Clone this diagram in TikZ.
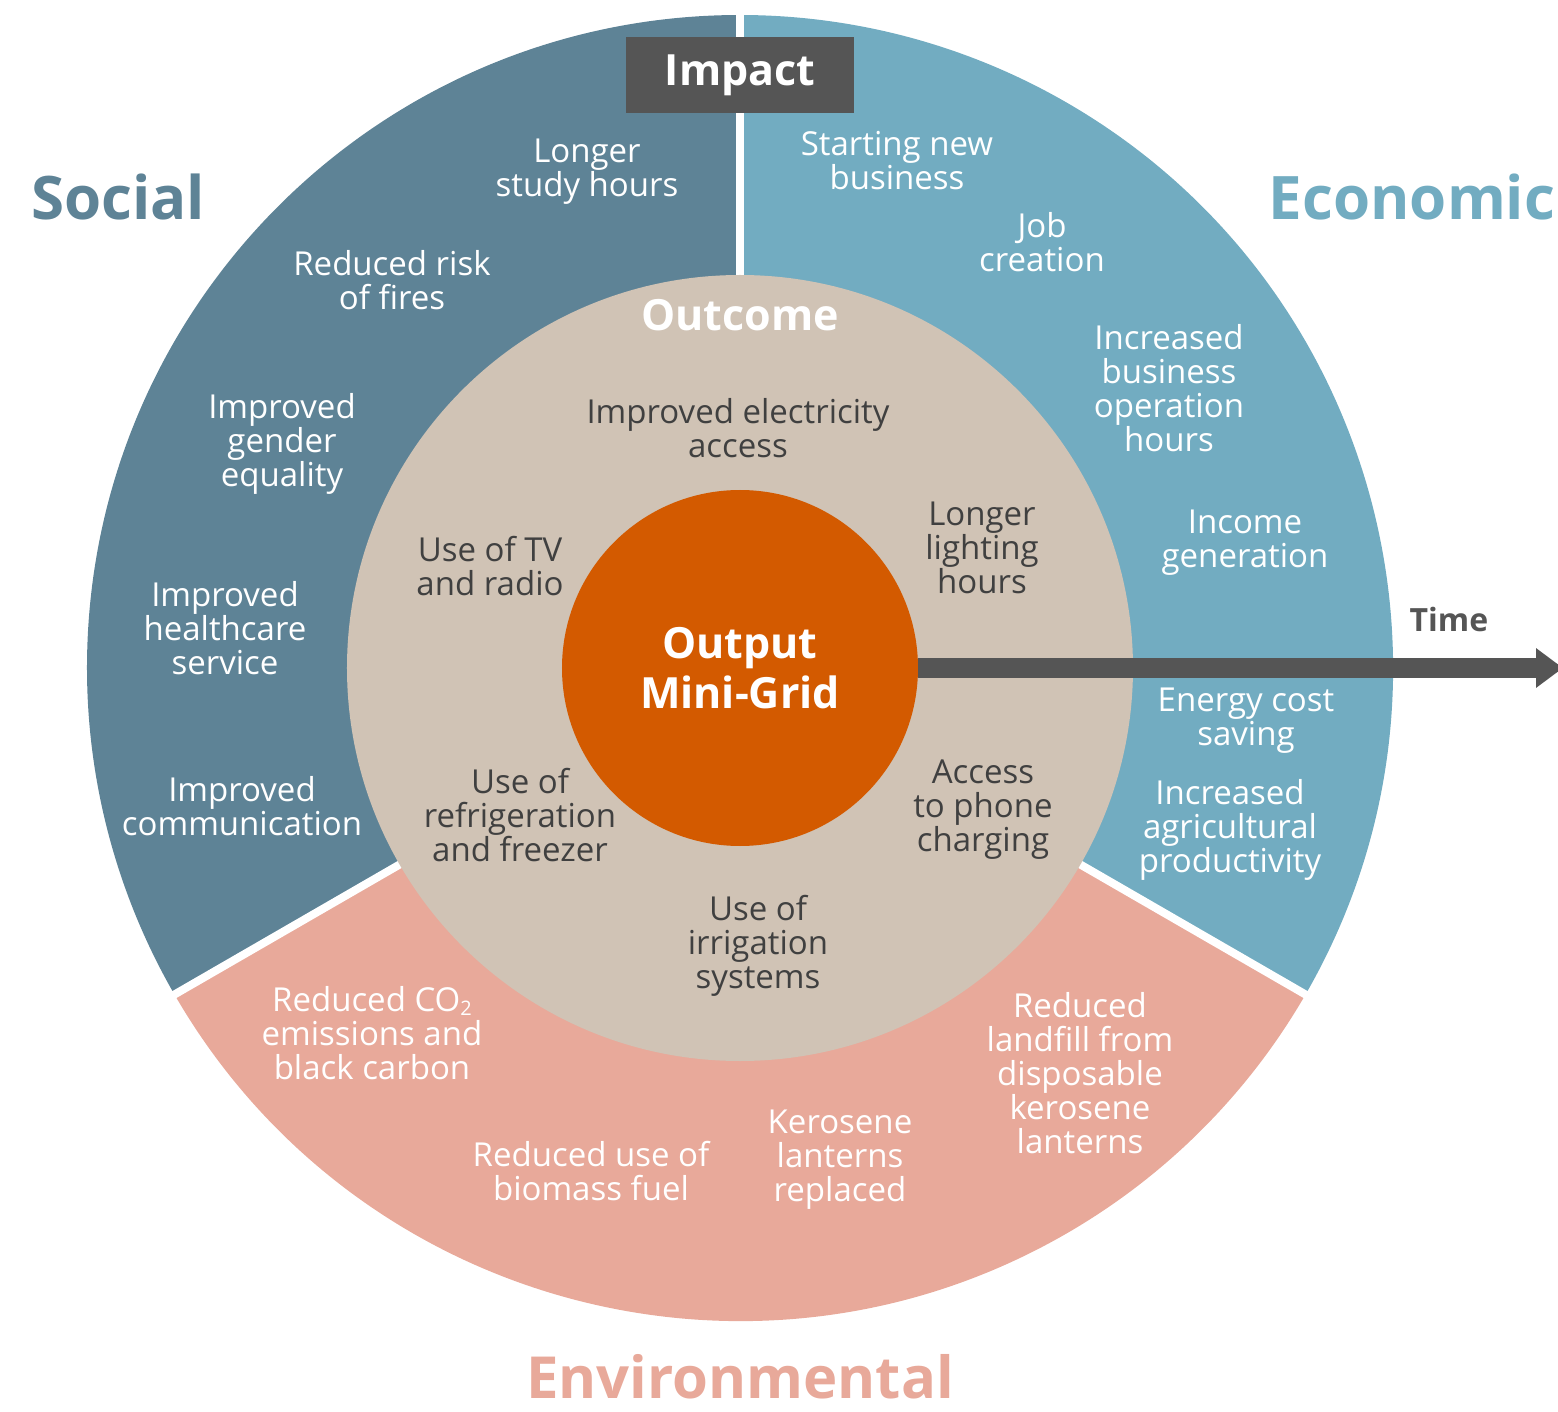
\documentclass[tikz,border=0pt]{standalone}
\usepackage{fontspec}
\setmainfont{Open Sans}
\usepackage{tikz}
\usetikzlibrary{positioning, arrows.meta}
\definecolor{socialc}{RGB}{94,131,150}
\definecolor{econc}{RGB}{114,172,193}
\definecolor{envc}{RGB}{232,169,154}
\definecolor{beigec}{RGB}{208,195,181}
\definecolor{outputc}{RGB}{211,90,0}
\definecolor{greyc}{RGB}{85,85,85}
\definecolor{textc}{RGB}{64,64,64}
\newcommand{\subtwo}{\raisebox{-0.12em}{\fontsize{20}{20}\selectfont 2}}
\tikzset{
  item/.style={align=center, inner sep=0pt, text=white, font=\fontsize{33}{34}\selectfont},
  initem/.style={item, text=textc},
  heading/.style={inner sep=0pt, font=\fontsize{60}{60}\selectfont\bfseries},
  title/.style={align=center, inner sep=0pt, text=white, font=\fontsize{43}{50}\selectfont\bfseries},
  divider/.style={white, line width=8pt},
  timearrow/.style={-{Triangle[length=27pt, width=38pt]}, greyc, line width=20pt},
}

\begin{document}
\begin{tikzpicture}[x=1pt, y=1pt]
  \useasboundingbox (-740,-743) rectangle (818,668);

  % Sectors
  \fill[socialc] (0,0) -- (90:653) arc[start angle=90, end angle=210, radius=653] -- cycle;
  \fill[econc] (0,0) -- (-30:653) arc[start angle=-30, end angle=90, radius=653] -- cycle;
  \fill[envc] (0,0) -- (210:653) arc[start angle=210, end angle=330, radius=653] -- cycle;
  \foreach \a in {90, 210, 330}
    \draw[divider] (0,0) -- (\a:660);

  % Outcome ring
  \fill[beigec] (0,0) circle[radius=393];

  % Time arrow
  \node[circle, minimum size=356pt, inner sep=0pt] (center) at (0,0) {};
  \coordinate (timeend) at (823,0);
  \draw[timearrow] (center.east) -- (timeend);
  \node[circle, fill=outputc, minimum size=356pt, inner sep=0pt, title] (output) at (0,0) {Output\\Mini-Grid};
  \node[font=\fontsize{32}{32}\selectfont\bfseries, text=greyc, inner sep=0pt] (time) at (709,48) {Time};

  % Impact label
  \node[fill=greyc, minimum width=227pt, minimum height=76pt, title] (impact) at (0,593) {Impact};
  \node[title] (outcome) at (0,353) {Outcome};

  % Headings
  \node[heading, text=socialc] (social) at (-622,471) {Social};
  \node[heading, text=econc] (economic) at (672,471) {Economic};
  \node[heading, text=envc, font=\fontsize{58}{58}\selectfont\bfseries] (environmental) at (0,-709) {Environmental};

  % Social impacts
  \node[item] (study) at (-153,496) {Longer\\study hours};
  \node[item] (fires) at (-348,388) {Reduced risk\\of fires};
  \node[item] (gender) at (-458,224) {Improved\\gender\\equality};
  \node[item] (health) at (-515,40) {Improved\\healthcare\\service};
  \node[item] (comm) at (-498,-138) {Improved\\communication};

  % Economic impacts
  \node[item] (business) at (157,507) {Starting new\\business};
  \node[item] (job) at (302,426) {Job\\creation};
  \node[item] (hours) at (429,280) {Increased\\business\\operation\\hours};
  \node[item] (income) at (505,125) {Income\\generation};
  \node[item] (saving) at (506,-53) {Energy cost\\saving};
  \node[item] (agri) at (490,-162) {Increased\\agricultural\\productivity};

  % Environmental impacts
  \node[item] (co2) at (-368,-365) {Reduced CO\subtwo\\emissions and\\black carbon};
  \node[item] (biomass) at (-149,-503) {Reduced use of\\biomass fuel};
  \node[item] (kerosene) at (100,-492) {Kerosene\\lanterns\\replaced};
  \node[item] (landfill) at (340,-405) {Reduced\\landfill from\\disposable\\kerosene\\lanterns};

  % Outcomes
  \node[initem] (electricity) at (-2,240) {Improved electricity\\access};
  \node[initem] (tv) at (-250,102) {Use of TV\\and radio};
  \node[initem] (lighting) at (242,120) {Longer\\lighting\\hours};
  \node[initem] (fridge) at (-220,-147) {Use of\\refrigeration\\and freezer};
  \node[initem] (phone) at (243,-142) {Access\\to phone\\charging};
  \node[initem] (irrigation) at (18,-278) {Use of\\irrigation\\systems};

\end{tikzpicture}
\end{document}
